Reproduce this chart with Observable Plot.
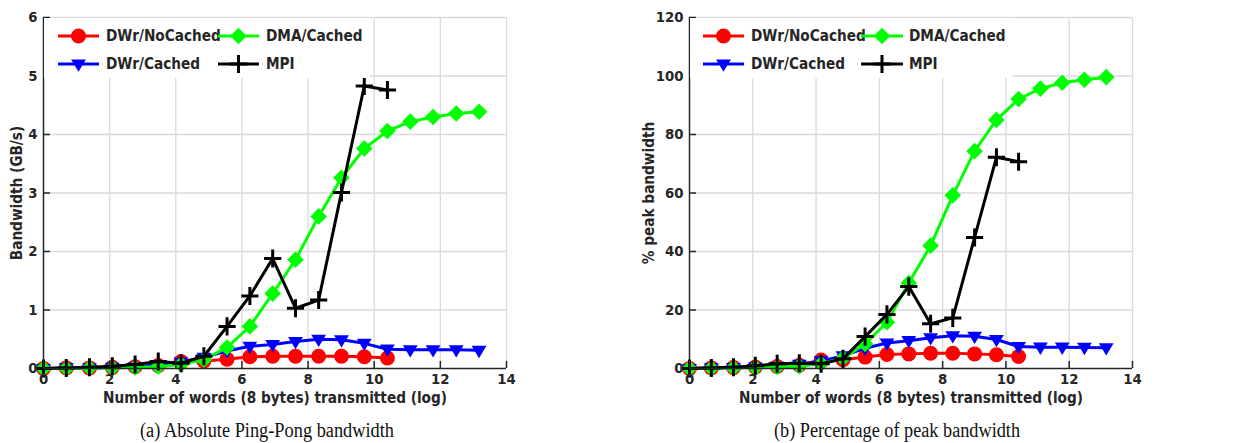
<!DOCTYPE html>
<html>
<head>
<meta charset="utf-8">
<script src="https://cdn.jsdelivr.net/npm/d3@7"></script>
<script src="https://cdn.jsdelivr.net/npm/@observablehq/plot@0.6"></script>
<style>
  html, body { margin: 0; padding: 0; background: #fff; }
  #wrap { position: relative; width: 1248px; height: 443px; overflow: hidden; }
  .panel { position: absolute; top: 0; }
  .caption { position: absolute; top: 418px; font-family: "Liberation Serif", "Times New Roman", serif; font-size: 20.5px; color: #111; white-space: nowrap; line-height: 24px; transform-origin: 0 0; }
  .legend { position: absolute; }
</style>
</head>
<body>
<div id="wrap"></div>
<script>
// x positions: log of number of words transmitted
const xs = [0, 0.69, 1.39, 2.08, 2.77, 3.47, 4.16, 4.85, 5.55, 6.24, 6.93, 7.62, 8.32, 9.01, 9.70, 10.40, 11.09, 11.78, 12.48, 13.17];

const seriesNames = ["DWr/NoCached", "DWr/Cached", "DMA/Cached", "MPI"];

// (a) Absolute bandwidth, GB/s
const absNoCached = [0.00, 0.01, 0.01, 0.02, 0.03, 0.05, 0.12, 0.13, 0.16, 0.20, 0.21, 0.21, 0.21, 0.21, 0.20, 0.18];
const absCached   = [0.00, 0.01, 0.01, 0.02, 0.03, 0.06, 0.11, 0.19, 0.30, 0.38, 0.41, 0.46, 0.50, 0.49, 0.43, 0.33, 0.32, 0.32, 0.32, 0.31];
const absDMA      = [0.00, 0.00, 0.01, 0.01, 0.02, 0.03, 0.07, 0.15, 0.36, 0.72, 1.28, 1.86, 2.60, 3.26, 3.76, 4.06, 4.22, 4.30, 4.36, 4.39];
const absMPI      = [0.00, 0.01, 0.02, 0.04, 0.07, 0.12, 0.09, 0.21, 0.72, 1.24, 1.88, 1.03, 1.17, 3.01, 4.83, 4.76];

// (b) Percentage of peak bandwidth
const pctNoCached = [0.0, 0.2, 0.3, 0.5, 0.7, 1.1, 2.9, 3.0, 3.9, 4.8, 5.0, 5.2, 5.2, 5.0, 4.7, 4.1];
const pctCached   = [0.0, 0.2, 0.3, 0.5, 0.7, 1.4, 2.6, 4.3, 6.9, 8.7, 9.5, 10.5, 11.2, 11.0, 9.9, 7.5, 7.3, 7.3, 7.2, 7.1];
const pctDMA      = [0.0, 0.1, 0.2, 0.3, 0.5, 0.8, 1.6, 3.5, 8.4, 15.8, 29.2, 42.0, 59.2, 74.3, 85.0, 92.1, 95.7, 97.7, 98.7, 99.6];
const pctMPI      = [0.0, 0.2, 0.4, 0.9, 1.6, 1.8, 1.6, 3.3, 10.9, 18.5, 28.0, 15.3, 17.3, 44.8, 72.2, 70.7];

const xTicks = [0, 2, 4, 6, 8, 10, 12, 14];
const yTicksA = [0, 1, 2, 3, 4, 5, 6];
const yTicksB = [0, 20, 40, 60, 80, 100, 120];

const xLabel = "Number of words (8 bytes) transmitted (log)";
const yLabelA = "Bandwidth (GB/s)";
const yLabelB = "% peak bandwidth";
const captionA = "(a) Absolute Ping-Pong bandwidth";
const captionB = "(b) Percentage of peak bandwidth";

// font detection: prefer condensed DejaVu if installed
function hasFont(name) {
  const c = document.createElement("canvas").getContext("2d");
  const s = "DWr/NoCached MPI 0123456789";
  c.font = "bold 20px monospace"; const a = c.measureText(s).width;
  c.font = `bold 20px "${name}", monospace`; const b = c.measureText(s).width;
  c.font = "bold 20px serif"; const a2 = c.measureText(s).width;
  c.font = `bold 20px "${name}", serif`; const b2 = c.measureText(s).width;
  return a !== b || a2 !== b2;
}
const condensed = hasFont("DejaVu Sans Condensed");
const FONT = condensed ? "DejaVu Sans Condensed" : "DejaVu Sans";
const TICK_FS = condensed ? 14.8 : 13.5;
const LABEL_FS = condensed ? 15.2 : 13.6;
const LEG_FS = condensed ? 15.2 : 13.8;

// custom symbols
const triDown = { draw(ctx, size) { const s = Math.sqrt(size / Math.PI); ctx.moveTo(-s, -0.62 * s); ctx.lineTo(s, -0.62 * s); ctx.lineTo(0, 1.05 * s); ctx.closePath(); } };
const plusSym = { draw(ctx, size) { const s = Math.sqrt(size / Math.PI); ctx.moveTo(-s, 0); ctx.lineTo(s, 0); ctx.moveTo(0, -s * 1.05); ctx.lineTo(0, s * 1.05); } };
const diamondSym = { draw(ctx, size) { const s = Math.sqrt(size / Math.PI); ctx.moveTo(0, -s); ctx.lineTo(s, 0); ctx.lineTo(0, s); ctx.lineTo(-s, 0); ctx.closePath(); } };

const styles = [
  { color: "#ff0000", symbol: "circle", r: 7.5, fill: "#ff0000", stroke: "none", sw: 0 },
  { color: "#0000ff", symbol: triDown, r: 7.4, fill: "#0000ff", stroke: "none", sw: 0 },
  { color: "#00ff00", symbol: diamondSym, r: 8.3, fill: "#00ff00", stroke: "none", sw: 0 },
  { color: "#000000", symbol: plusSym, r: 8.6, fill: "none", stroke: "#000000", sw: 3 }
];

const TXT = "#262626";

function makeChart(o) {
  const innerW = o.width - o.ml - o.mr;
  const innerH = o.height - o.mt - o.mb;
  const marks = [
    Plot.ruleX(xTicks.filter(d => d > 0), { stroke: "#dadada", strokeWidth: 1.3 }),
    Plot.ruleY(o.yTicks.filter(d => d > 0), { stroke: "#dadada", strokeWidth: 1.3 }),
  ];
  o.values.forEach((vals, i) => {
    const st = styles[i];
    const data = vals.map((v, j) => ({ x: xs[j], y: v, s: seriesNames[i] }));
    marks.push(Plot.line(data, { x: "x", y: "y", stroke: st.color, strokeWidth: 3 }));
    marks.push(Plot.dot(data, { x: "x", y: "y", symbol: () => st.symbol, r: st.r, fill: st.fill, stroke: st.stroke, strokeWidth: st.sw }));
  });
  marks.push(
    Plot.ruleY([0], { stroke: TXT, strokeWidth: 1.5 }),
    Plot.ruleX([0], { stroke: TXT, strokeWidth: 1.5 }),
    Plot.ruleX(xTicks, { stroke: TXT, strokeWidth: 1.5, insetTop: innerH - 7 }),
    Plot.ruleY(o.yTicks, { stroke: TXT, strokeWidth: 1.5, insetRight: innerW - 7 }),
    Plot.axisX({ ticks: xTicks, tickSize: 0, tickPadding: 5, tickFormat: d => String(d), fontSize: TICK_FS, fontWeight: "bold", fill: TXT, label: null }),
    Plot.axisY({ ticks: o.yTicks, tickSize: 0, tickPadding: 6, tickFormat: d => String(d), fontSize: TICK_FS, fontWeight: "bold", fill: TXT, label: null }),
    Plot.text([xLabel], { frameAnchor: "bottom", dy: 34, textAnchor: "middle", fontSize: LABEL_FS, fontWeight: "bold", fill: TXT }),
    Plot.text([o.ylabel], { frameAnchor: "left", dx: o.ylabelDx, textAnchor: "middle", rotate: -90, fontSize: LABEL_FS, fontWeight: "bold", fill: TXT })
  );
  return Plot.plot({
    width: o.width, height: o.height,
    marginLeft: o.ml, marginRight: o.mr, marginTop: o.mt, marginBottom: o.mb,
    style: { fontFamily: FONT, background: "transparent", overflow: "visible" },
    x: { domain: [0, 14] },
    y: { domain: o.yDomain },
    marks
  });
}

function makeLegend(left, top, boxW, cols) {
  const svg = d3.create("svg").attr("class", "legend")
    .attr("width", boxW).attr("height", 60)
    .style("left", left + "px").style("top", top + "px");
  svg.append("rect").attr("width", boxW).attr("height", 60).attr("fill", "#fff");
  const order = [[0, 0, 0], [1, 0, 1], [2, 1, 0], [3, 1, 1]];
  const rowsY = [18, 46];
  order.forEach(([si, c, r]) => {
    const st = styles[si];
    const g = svg.append("g");
    const x0 = cols[c].line0, x1 = cols[c].line1, mx = (x0 + x1) / 2, y = rowsY[r];
    g.append("line").attr("x1", x0).attr("x2", x1).attr("y1", y).attr("y2", y)
      .attr("stroke", st.color).attr("stroke-width", 3);
    const sym = typeof st.symbol === "string" ? d3.symbolCircle : st.symbol;
    g.append("path").attr("d", d3.symbol(sym, st.r * st.r * Math.PI)())
      .attr("transform", `translate(${mx},${y})`)
      .attr("fill", st.fill).attr("stroke", st.stroke).attr("stroke-width", st.sw);
    g.append("text").attr("x", cols[c].text).attr("y", y).attr("dy", "0.36em")
      .attr("font-family", FONT).attr("font-weight", "bold").attr("font-size", LEG_FS)
      .attr("fill", TXT).text(seriesNames[si]);
  });
  return svg.node();
}

const wrap = document.getElementById("wrap");

const pa = makeChart({ width: 620, height: 418, ml: 43, mr: 114, mt: 17, mb: 50,
  yDomain: [0, 6], yTicks: yTicksA, values: [absNoCached, absCached, absDMA, absMPI], ylabel: yLabelA, ylabelDx: -26 });
pa.classList.add("panel"); pa.style.left = "0px"; pa.style.position = "absolute";
wrap.appendChild(pa);

const pb = makeChart({ width: 628, height: 418, ml: 69, mr: 116, mt: 17, mb: 50,
  yDomain: [0, 120], yTicks: yTicksB, values: [pctNoCached, pctCached, pctDMA, pctMPI], ylabel: yLabelB, ylabelDx: -40 });
pb.classList.add("panel"); pb.style.left = "620px"; pb.style.position = "absolute";
wrap.appendChild(pb);

wrap.appendChild(makeLegend(44, 18, 326, [{ line0: 14, line1: 55, text: 62 }, { line0: 174, line1: 215, text: 222 }]));
wrap.appendChild(makeLegend(690, 18, 322, [{ line0: 13, line1: 54, text: 61 }, { line0: 171, line1: 213, text: 219 }]));

function addCaption(text, center, targetW) {
  const d = document.createElement("div"); d.className = "caption"; d.textContent = text;
  wrap.appendChild(d);
  const w = d.getBoundingClientRect().width;
  const sx = Math.min(1, targetW / w);
  d.style.left = (center - (w * sx) / 2) + "px";
  d.style.transform = `scaleX(${sx})`;
}
addCaption(captionA, 267, 254);
addCaption(captionB, 897, 246);
</script>
</body>
</html>
